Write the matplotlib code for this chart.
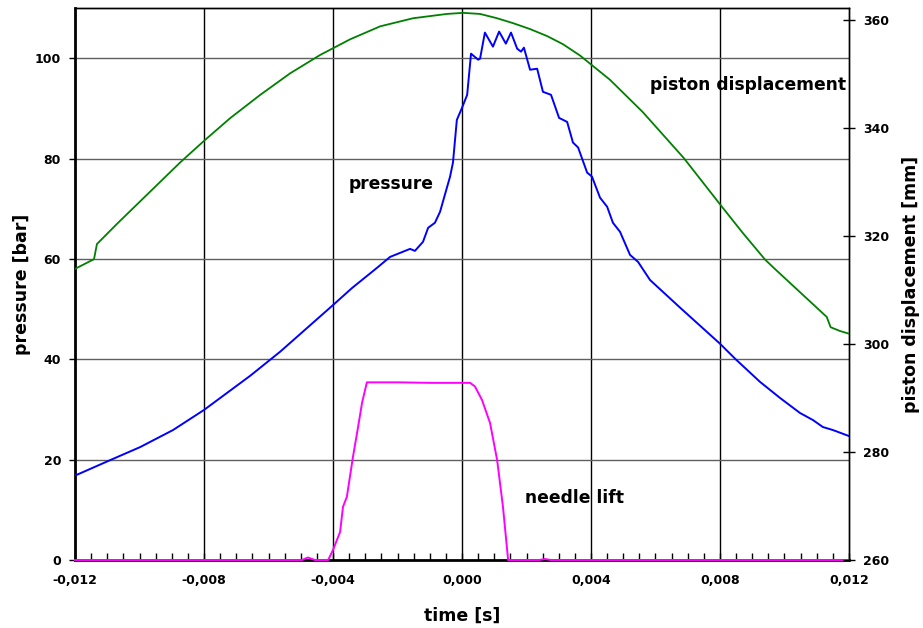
import numpy as np
import matplotlib
matplotlib.use("Agg")
import matplotlib.pyplot as plt
from matplotlib.ticker import MultipleLocator, FuncFormatter

plt.rcParams['font.family'] = ['DejaVu Sans']
plt.rcParams['font.weight'] = 'bold'

# pressure [bar] vs time [s]
t_pressure = [-0.01197, -0.01091, -0.00998, -0.00896, -0.00800, -0.00657, -0.00564,
              -0.00400, -0.00341, -0.00264, -0.00223, -0.00161, -0.00146, -0.00121,
              -0.00105, -0.00084, -0.00068, -0.00053, -0.00037, -0.00028, -0.00016,
              0.00000, 0.00016, 0.00028, 0.00050, 0.00056, 0.00071, 0.00096, 0.00115,
              0.00136, 0.00152, 0.00171, 0.00183, 0.00192, 0.00211, 0.00233, 0.00251,
              0.00276, 0.00301, 0.00326, 0.00344, 0.00360, 0.00388, 0.00403, 0.00428,
              0.00450, 0.00468, 0.00490, 0.00521, 0.00546, 0.00583, 0.00676, 0.00738,
              0.00800, 0.00847, 0.00924, 0.00986, 0.01048, 0.01088, 0.01119, 0.01150,
              0.01200]
pressure = [16.9, 19.9, 22.5, 25.9, 29.9, 36.7, 41.5,
            50.8, 54.2, 58.2, 60.4, 62.0, 61.6, 63.4,
            66.2, 67.2, 69.4, 72.8, 76.4, 79.2, 87.7,
            90.1, 92.7, 100.9, 99.7, 99.9, 105.1, 102.3, 105.3,
            102.9, 105.1, 101.9, 101.3, 102.1, 97.7, 97.9, 93.3,
            92.7, 88.1, 87.3, 83.2, 82.2, 77.2, 76.4, 72.2,
            70.4, 67.2, 65.4, 60.8, 59.4, 55.8, 50.3, 46.7,
            43.1, 40.1, 35.5, 32.3, 29.3, 27.9, 26.5, 25.9,
            24.7]

# piston displacement [mm] (right axis)
t_piston = [-0.01200, -0.01141, -0.01132, -0.01067, -0.00998, -0.00936, -0.00874,
            -0.00800, -0.00719, -0.00626, -0.00533, -0.00440, -0.00347, -0.00254,
            -0.00152, -0.00047, 0.00003, 0.00056, 0.00109, 0.00158, 0.00211,
            0.00264, 0.00313, 0.00366, 0.00459, 0.00561, 0.00688, 0.00806,
            0.00870, 0.00940, 0.00970, 0.01017, 0.01131, 0.01143, 0.01172, 0.01200]
piston = [313.9, 315.7, 318.5, 322.4, 326.4, 330.0, 333.6,
          337.6, 341.8, 346.1, 350.1, 353.5, 356.4, 358.8,
          360.3, 361.1, 361.3, 361.1, 360.3, 359.4, 358.3,
          357.0, 355.5, 353.4, 348.9, 342.9, 334.4, 325.4,
          320.6, 315.6, 313.9, 311.3, 305.0, 303.1, 302.4, 301.9]

# needle lift (drawn on pressure scale)
t_needle = [-0.01200, -0.00496, -0.00478, -0.00456, -0.00415, -0.00400, -0.00378,
            -0.00369, -0.00357, -0.00338, -0.00322, -0.00310, -0.00295, -0.00192,
            -0.00099, 0.00025, 0.00040, 0.00062, 0.00087, 0.00109, 0.00127,
            0.00143, 0.00240, 0.00257, 0.00275, 0.01200]
needle = [0.0, 0.0, 0.5, 0.0, 0.0, 2.0, 5.6,
          10.6, 12.6, 20.6, 26.6, 31.3, 35.4, 35.4,
          35.3, 35.3, 34.6, 31.9, 27.3, 19.9, 10.6,
          0.0, 0.0, 0.2, 0.0, 0.0]

fig = plt.figure(figsize=(9.23, 6.28), dpi=100)
ax = fig.add_axes([75/923, 68/628, 774/923, 552/628])
ax2 = ax.twinx()

ax.set_xlim(-0.012, 0.012)
ax.set_ylim(0, 110)
ax2.set_ylim(260, 362.2)

# grid
for xv in np.arange(-0.008, 0.0081, 0.004):
    ax.axvline(xv, color='black', lw=1.0, zorder=1)
for yv in range(20, 101, 20):
    ax.axhline(yv, color='#606060', lw=1.0, zorder=1)

ax.plot(t_pressure, pressure, color='#0000FF', lw=1.4, zorder=3)
ax.plot(t_needle, needle, color='#FF00FF', lw=1.4, zorder=3, clip_on=False)
ax2.plot(t_piston, piston, color='#008000', lw=1.3, zorder=3)

ax.xaxis.set_major_locator(MultipleLocator(0.004))
ax.xaxis.set_minor_locator(MultipleLocator(0.0005))
ax.xaxis.set_major_formatter(FuncFormatter(lambda v, p: f"{v:.3f}".replace('.', ',').replace('-0,000', '0,000')))
ax.yaxis.set_major_locator(MultipleLocator(20))
ax2.yaxis.set_major_locator(MultipleLocator(20))

ax.tick_params(axis='x', which='both', direction='in', length=5, width=1, labelsize=9, pad=10)
ax.tick_params(axis='y', direction='out', length=4, width=1, labelsize=9, pad=6)
ax2.tick_params(axis='y', direction='inout', length=8, width=1, labelsize=9, pad=6)

for lbl in ax.get_xticklabels() + ax.get_yticklabels() + ax2.get_yticklabels():
    lbl.set_fontweight('bold')

ax.spines['left'].set_linewidth(2)
ax.spines['bottom'].set_linewidth(2)
for s in ['top', 'right']:
    ax.spines[s].set_linewidth(1)
    ax2.spines[s].set_linewidth(1)
ax2.spines['left'].set_visible(False)
ax2.spines['bottom'].set_visible(False)

ax.set_xlabel('time [s]', fontsize=12.5, fontweight='bold', labelpad=14)
ax.set_ylabel('pressure [bar]', fontsize=12.5, fontweight='bold', labelpad=3)
ax2.set_ylabel('piston displacement [mm]', fontsize=12.5, fontweight='bold', labelpad=9)

ax.text(-0.00351, 75, 'pressure', fontsize=12.3, fontweight='bold', ha='left', va='center', zorder=4)
ax.text(0.00583, 94.7, 'piston displacement', fontsize=12.3, fontweight='bold', ha='left', va='center', zorder=4)
ax.text(0.00195, 12.4, 'needle lift', fontsize=12.3, fontweight='bold', ha='left', va='center', zorder=4)

fig.savefig('out.png', dpi=100)
